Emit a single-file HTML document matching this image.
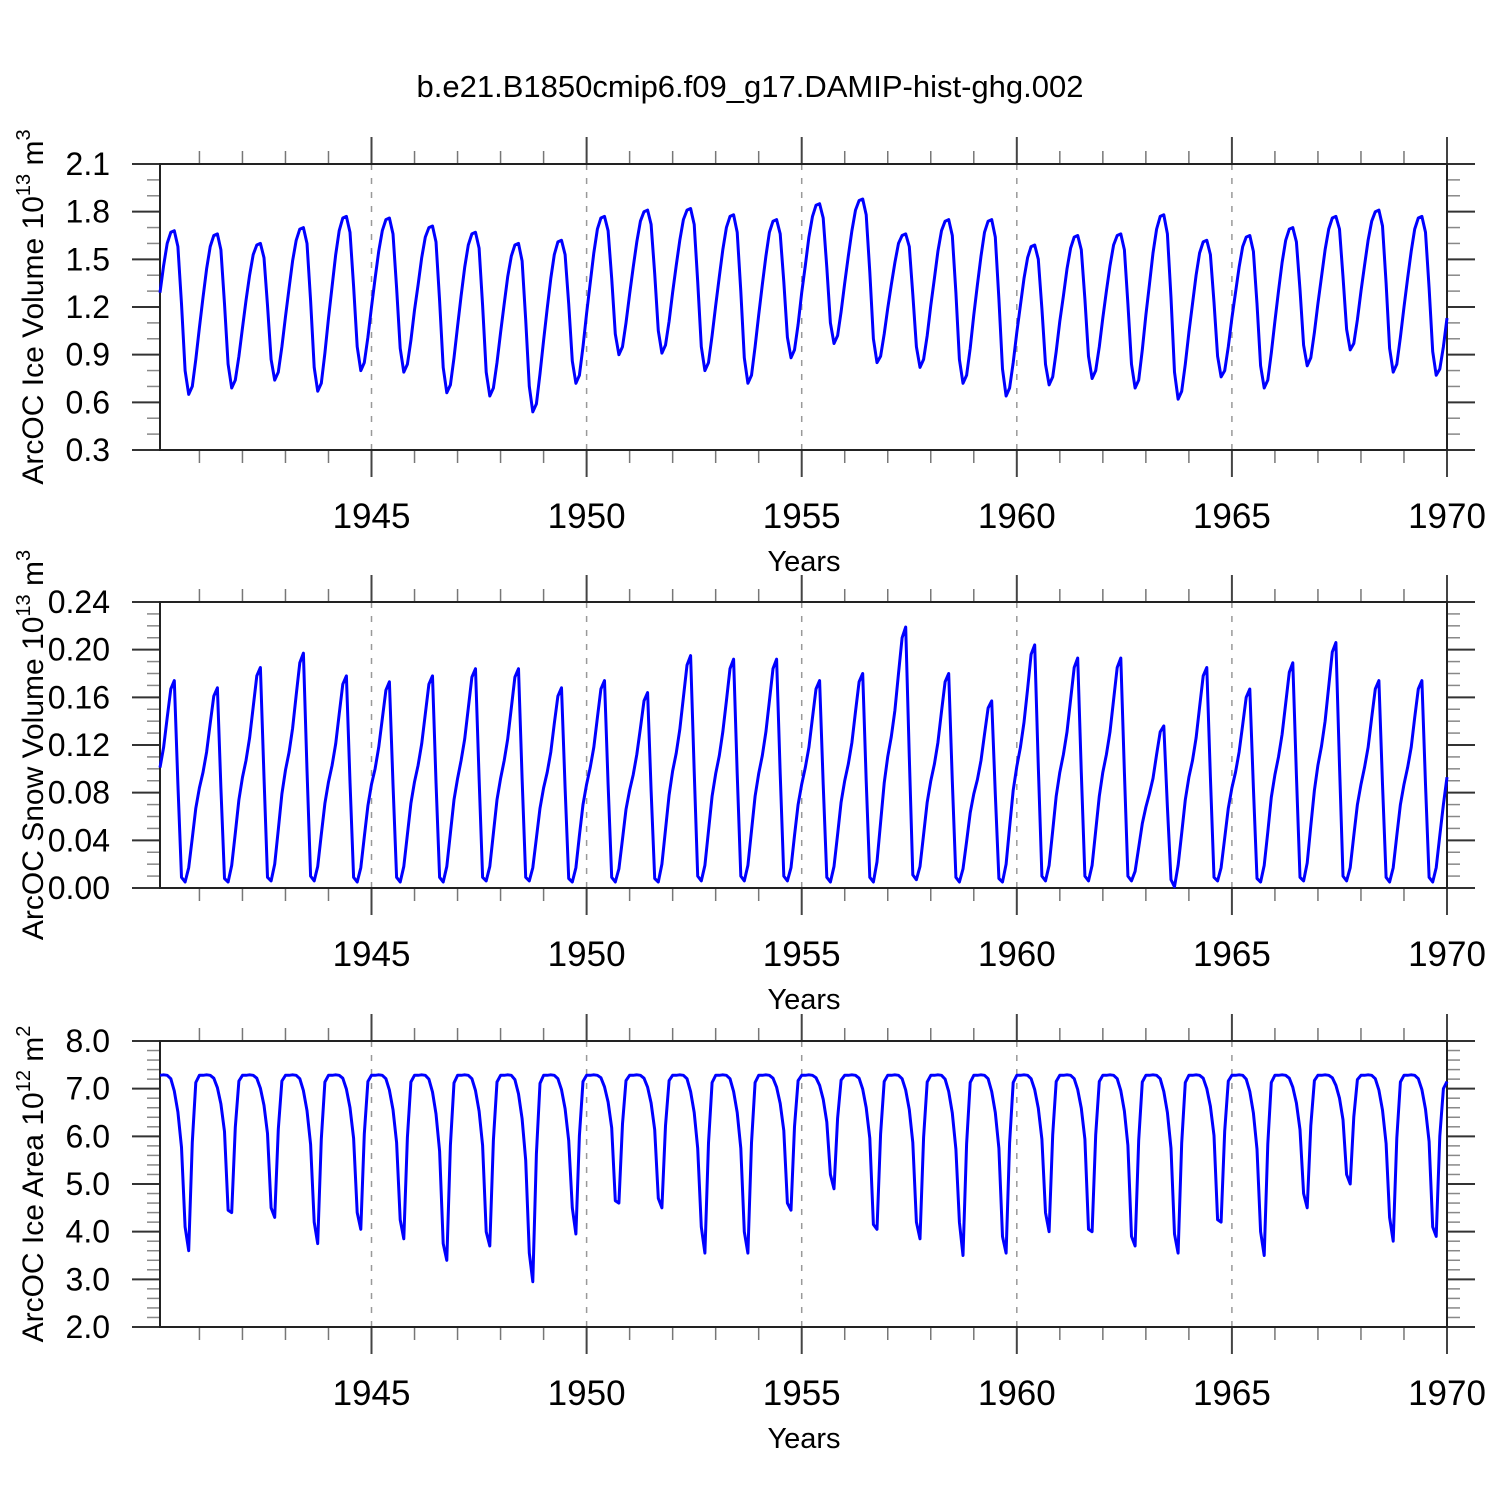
<!DOCTYPE html>
<html><head><meta charset="utf-8">
<style>
html,body{margin:0;padding:0;background:#fff;}
svg{display:block;font-family:"Liberation Sans",Arial,sans-serif;}
</style></head>
<body>
<svg id="chart" width="1500" height="1500" viewBox="0 0 1500 1500" xmlns="http://www.w3.org/2000/svg">
<rect width="1500" height="1500" fill="#fff"/>
<text x="750" y="97" font-size="31" text-anchor="middle">b.e21.B1850cmip6.f09_g17.DAMIP-hist-ghg.002</text>
</svg>
<script>
// ---- data (monthly, Jan 1940 - Dec 1969) ----
const iceVolume = [
1.29,1.46,1.60,1.67,1.68,1.58,1.22,0.80,0.65,0.70,0.87,1.07,
1.26,1.44,1.58,1.65,1.66,1.56,1.22,0.84,0.69,0.74,0.89,1.07,
1.24,1.40,1.53,1.59,1.60,1.51,1.21,0.87,0.74,0.79,0.95,1.14,
1.32,1.49,1.62,1.69,1.70,1.60,1.24,0.82,0.67,0.72,0.91,1.13,
1.33,1.53,1.68,1.76,1.77,1.67,1.33,0.95,0.80,0.85,1.01,1.20,
1.38,1.55,1.68,1.75,1.76,1.66,1.32,0.94,0.79,0.84,0.99,1.18,
1.34,1.51,1.64,1.70,1.71,1.61,1.24,0.82,0.66,0.71,0.88,1.08,
1.27,1.45,1.59,1.66,1.67,1.57,1.21,0.79,0.64,0.69,0.85,1.04,
1.22,1.39,1.52,1.59,1.60,1.49,1.12,0.70,0.54,0.59,0.78,0.99,
1.19,1.38,1.53,1.61,1.62,1.53,1.22,0.86,0.72,0.77,0.95,1.16,
1.35,1.54,1.69,1.76,1.77,1.68,1.38,1.03,0.90,0.95,1.10,1.28,
1.45,1.61,1.74,1.80,1.81,1.72,1.41,1.05,0.91,0.96,1.11,1.29,
1.46,1.62,1.75,1.81,1.82,1.72,1.36,0.95,0.80,0.85,1.02,1.21,
1.39,1.56,1.70,1.77,1.78,1.67,1.30,0.88,0.72,0.77,0.95,1.15,
1.34,1.52,1.67,1.74,1.75,1.66,1.36,1.01,0.88,0.93,1.09,1.29,
1.46,1.64,1.77,1.84,1.85,1.76,1.45,1.10,0.97,1.02,1.17,1.35,
1.52,1.68,1.81,1.87,1.88,1.78,1.42,1.00,0.85,0.89,1.03,1.19,
1.34,1.48,1.60,1.65,1.66,1.58,1.28,0.95,0.82,0.87,1.02,1.21,
1.38,1.55,1.68,1.74,1.75,1.65,1.29,0.87,0.72,0.77,0.94,1.15,
1.34,1.52,1.67,1.74,1.75,1.64,1.25,0.81,0.64,0.69,0.85,1.04,
1.21,1.38,1.51,1.58,1.59,1.50,1.19,0.84,0.71,0.76,0.92,1.11,
1.27,1.44,1.57,1.64,1.65,1.56,1.25,0.89,0.75,0.80,0.95,1.13,
1.30,1.46,1.59,1.65,1.66,1.56,1.22,0.84,0.69,0.74,0.93,1.15,
1.34,1.54,1.69,1.77,1.78,1.66,1.26,0.79,0.62,0.67,0.84,1.04,
1.22,1.40,1.54,1.61,1.62,1.53,1.23,0.89,0.76,0.80,0.95,1.13,
1.29,1.45,1.58,1.64,1.65,1.55,1.22,0.83,0.69,0.74,0.91,1.11,
1.30,1.48,1.62,1.69,1.70,1.61,1.31,0.96,0.83,0.88,1.04,1.22,
1.39,1.56,1.69,1.76,1.77,1.69,1.39,1.06,0.93,0.97,1.12,1.30,
1.46,1.62,1.74,1.80,1.81,1.71,1.35,0.94,0.79,0.84,1.01,1.20,
1.38,1.55,1.69,1.76,1.77,1.67,1.32,0.92,0.77,0.81,0.95,1.13];
const snowVolume = [
.101,.118,.143,.167,.174,.087,.009,.005,.017,.042,.067,.084,
.097,.114,.138,.161,.168,.084,.008,.005,.019,.046,.074,.093,
.107,.126,.152,.178,.185,.093,.009,.006,.020,.049,.079,.099,
.114,.134,.162,.189,.197,.099,.010,.006,.018,.045,.071,.089,
.103,.121,.146,.171,.178,.089,.009,.005,.017,.043,.069,.087,
.100,.118,.142,.166,.173,.087,.009,.005,.018,.045,.071,.089,
.103,.121,.146,.171,.178,.089,.009,.005,.018,.046,.074,.092,
.107,.125,.151,.177,.184,.092,.009,.006,.018,.046,.074,.092,
.107,.125,.151,.177,.184,.092,.009,.006,.017,.042,.067,.084,
.097,.114,.138,.161,.168,.084,.008,.005,.017,.044,.070,.087,
.101,.118,.143,.167,.174,.087,.009,.005,.016,.041,.066,.082,
.095,.112,.134,.157,.164,.082,.008,.005,.020,.049,.078,.098,
.113,.133,.160,.187,.195,.098,.010,.006,.019,.048,.077,.096,
.111,.131,.157,.184,.192,.096,.010,.006,.019,.048,.077,.096,
.111,.131,.157,.184,.192,.096,.010,.006,.017,.044,.070,.087,
.101,.118,.143,.167,.174,.087,.009,.005,.018,.045,.072,.090,
.104,.122,.148,.173,.180,.090,.009,.005,.022,.055,.088,.110,
.127,.149,.180,.210,.219,.110,.011,.007,.018,.045,.072,.090,
.104,.122,.148,.173,.180,.090,.009,.005,.016,.039,.063,.079,
.091,.107,.129,.151,.157,.079,.008,.005,.020,.051,.082,.102,
.118,.139,.167,.196,.204,.102,.010,.006,.019,.048,.077,.097,
.112,.131,.158,.185,.193,.097,.010,.006,.019,.048,.077,.097,
.112,.131,.158,.185,.193,.097,.010,.006,.014,.034,.054,.068,
.079,.092,.112,.131,.136,.068,.007,.001,.019,.046,.074,.093,
.107,.126,.152,.178,.185,.093,.009,.006,.017,.042,.067,.084,
.097,.114,.137,.160,.167,.084,.008,.005,.019,.047,.076,.095,
.110,.129,.155,.181,.189,.095,.009,.006,.021,.052,.082,.103,
.119,.140,.169,.198,.206,.103,.010,.006,.017,.044,.070,.087,
.101,.118,.143,.167,.174,.087,.009,.005,.017,.044,.070,.087,
.101,.118,.143,.167,.174,.087,.009,.005,.017,.044,.070,.093];
const iceArea = [
7.28,7.29,7.28,7.21,6.95,6.51,5.77,4.10,3.60,5.88,7.13,7.28,
7.28,7.29,7.28,7.22,7.02,6.68,6.10,4.45,4.40,6.19,7.16,7.28,
7.28,7.29,7.28,7.22,7.01,6.65,6.06,4.50,4.30,6.15,7.16,7.28,
7.28,7.29,7.28,7.21,6.96,6.54,5.83,4.20,3.75,5.94,7.14,7.28,
7.28,7.29,7.28,7.22,6.99,6.60,5.96,4.40,4.05,6.05,7.15,7.28,
7.28,7.29,7.28,7.21,6.97,6.56,5.87,4.25,3.85,5.98,7.14,7.28,
7.28,7.29,7.28,7.20,6.93,6.47,5.69,3.75,3.40,5.81,7.12,7.28,
7.28,7.29,7.28,7.21,6.96,6.53,5.81,4.00,3.70,5.92,7.14,7.28,
7.28,7.29,7.28,7.19,6.89,6.37,5.50,3.55,2.95,5.63,7.11,7.28,
7.28,7.29,7.28,7.21,6.98,6.58,5.91,4.50,3.95,6.01,7.15,7.28,
7.28,7.29,7.28,7.23,7.04,6.72,6.18,4.65,4.60,6.26,7.17,7.28,
7.28,7.29,7.28,7.22,7.03,6.70,6.14,4.70,4.50,6.22,7.17,7.28,
7.28,7.29,7.28,7.21,6.94,6.50,5.75,4.10,3.55,5.86,7.13,7.28,
7.28,7.29,7.28,7.21,6.94,6.50,5.75,4.00,3.55,5.86,7.13,7.28,
7.28,7.29,7.28,7.22,7.03,6.69,6.12,4.60,4.45,6.20,7.17,7.28,
7.28,7.29,7.28,7.23,7.07,6.78,6.30,5.20,4.90,6.38,7.18,7.28,
7.28,7.29,7.28,7.22,6.99,6.60,5.96,4.15,4.05,6.05,7.15,7.28,
7.28,7.29,7.28,7.21,6.97,6.56,5.87,4.20,3.85,5.98,7.14,7.28,
7.28,7.29,7.28,7.20,6.94,6.49,5.73,4.20,3.50,5.84,7.13,7.28,
7.28,7.29,7.28,7.21,6.94,6.50,5.75,3.90,3.55,5.86,7.13,7.28,
7.28,7.29,7.28,7.21,6.98,6.59,5.94,4.40,4.00,6.03,7.15,7.28,
7.28,7.29,7.28,7.21,6.98,6.59,5.94,4.05,4.00,6.03,7.15,7.28,
7.28,7.29,7.28,7.21,6.96,6.53,5.81,3.90,3.70,5.92,7.14,7.28,
7.28,7.29,7.28,7.21,6.94,6.50,5.75,3.95,3.55,5.86,7.13,7.28,
7.28,7.29,7.28,7.22,7.00,6.63,6.02,4.25,4.20,6.11,7.16,7.28,
7.28,7.29,7.28,7.20,6.94,6.49,5.73,4.00,3.50,5.84,7.13,7.28,
7.28,7.29,7.28,7.22,7.03,6.70,6.14,4.80,4.50,6.22,7.17,7.28,
7.28,7.29,7.28,7.23,7.07,6.80,6.35,5.20,5.00,6.41,7.19,7.28,
7.28,7.29,7.28,7.21,6.97,6.55,5.85,4.30,3.80,5.96,7.14,7.28,
7.28,7.29,7.28,7.21,6.98,6.57,5.89,4.10,3.90,6.00,7.00,7.15];
const xTickYears = [1945,1950,1955,1960,1965,1970];
const volTicks = ["0.3","0.6","0.9","1.2","1.5","1.8","2.1"];
const snowTicks = ["0.00","0.04","0.08","0.12","0.16","0.20","0.24"];
const areaTicks = ["2.0","3.0","4.0","5.0","6.0","7.0","8.0"];

const NS = "http://www.w3.org/2000/svg";
const svg = document.getElementById("chart");
const X0 = 160, X1 = 1447;
const T0 = 1940 + 1/12, T1 = 1970;
function xScale(t){ return X0 + (t - T0) / (T1 - T0) * (X1 - X0); }
function mk(tag, attrs, parent){
  const e = document.createElementNS(NS, tag);
  for (const k in attrs) e.setAttribute(k, attrs[k]);
  (parent || svg).appendChild(e);
  return e;
}

function panel(key, top, bottom, vmin, vmax, ticks, minorPer, data, titleMain, sup1, sup2){
  const g = mk("g", {});
  
  
  const y = v => bottom - (v - vmin) / (vmax - vmin) * (bottom - top);
  xTickYears.forEach(yr => {
    if (yr === 1970) return;
    const l = mk("line", {x1: xScale(yr), x2: xScale(yr), y1: top, y2: bottom, stroke: "#999", "stroke-width": 1.5, "stroke-dasharray": "6,8"}, g);
    
    
  });
  for (let yr = 1941; yr <= 1969; yr++) {
    if (yr % 5 === 0) continue;
    const xx = xScale(yr);
    mk("line", {x1: xx, x2: xx, y1: top - 13, y2: top, stroke: "#777", "stroke-width": 1.5}, g);
    mk("line", {x1: xx, x2: xx, y1: bottom, y2: bottom + 13, stroke: "#777", "stroke-width": 1.5}, g);
  }
  xTickYears.forEach(yr => {
    const xx = xScale(yr);
    mk("line", {x1: xx, x2: xx, y1: top - 27, y2: top, stroke: "#444", "stroke-width": 2}, g);
    mk("line", {x1: xx, x2: xx, y1: bottom, y2: bottom + 27, stroke: "#444", "stroke-width": 2}, g);
    const t = mk("text", {x: xx, y: bottom + 78, "font-size": 35, "text-anchor": "middle"}, g);
    
    
    t.textContent = yr;
  });
  const step = (vmax - vmin) / (ticks.length - 1);
  ticks.forEach((lab, i) => {
    const v = vmin + i * step, yy = y(v);
    mk("line", {x1: X0 - 28, x2: X0, y1: yy, y2: yy, stroke: "#333", "stroke-width": 2}, g);
    mk("line", {x1: X1, x2: X1 + 28, y1: yy, y2: yy, stroke: "#333", "stroke-width": 2}, g);
    const t = mk("text", {x: 110, y: yy + 11, "font-size": 32, "text-anchor": "end"}, g);
    
    
    t.textContent = lab;
    if (i < ticks.length - 1) {
      for (let k = 1; k <= minorPer; k++) {
        const ym = y(v + step * k / (minorPer + 1));
        mk("line", {x1: X0 - 13, x2: X0, y1: ym, y2: ym, stroke: "#888", "stroke-width": 1.5}, g);
        mk("line", {x1: X1, x2: X1 + 13, y1: ym, y2: ym, stroke: "#888", "stroke-width": 1.5}, g);
      }
    }
  });
  mk("rect", {x: X0, y: top, width: X1 - X0, height: bottom - top, fill: "none", stroke: "#222", "stroke-width": 2}, g);
  const pts = data.map((v, i) => xScale(1940 + (i + 1) / 12).toFixed(1) + "," + y(v).toFixed(1)).join(" ");
  const pl = mk("polyline", {points: pts, fill: "none", stroke: "#0000ff", "stroke-width": 3, "stroke-linejoin": "round"}, g);
  
  
  const xt = mk("text", {x: 804, y: bottom + 121, "font-size": 29, "text-anchor": "middle"}, g);
  
  
  xt.textContent = "Years";
  const cy = (top + bottom) / 2;
  const yt = mk("text", {x: 0, y: 0, "font-size": 30, "text-anchor": "middle", transform: "translate(43," + cy + ") rotate(-90)"}, g);
  
  
  const a = mk("tspan", {}, yt); a.textContent = titleMain + " 10";
  const b = mk("tspan", {dy: -13, "font-size": 20}, yt); b.textContent = sup1;
  const c = mk("tspan", {dy: 13}, yt); c.textContent = " m";
  const d = mk("tspan", {dy: -13, "font-size": 20}, yt); d.textContent = sup2;
}

panel("ice-volume", 164, 450, 0.3, 2.1, volTicks, 2, iceVolume, "ArcOC Ice Volume", "13", "3");
panel("snow-volume", 602, 888, 0.0, 0.24, snowTicks, 3, snowVolume, "ArcOC Snow Volume", "13", "3");
panel("ice-area", 1041, 1327, 2.0, 8.0, areaTicks, 4, iceArea, "ArcOC Ice Area", "12", "2");
</script>
</body></html>
